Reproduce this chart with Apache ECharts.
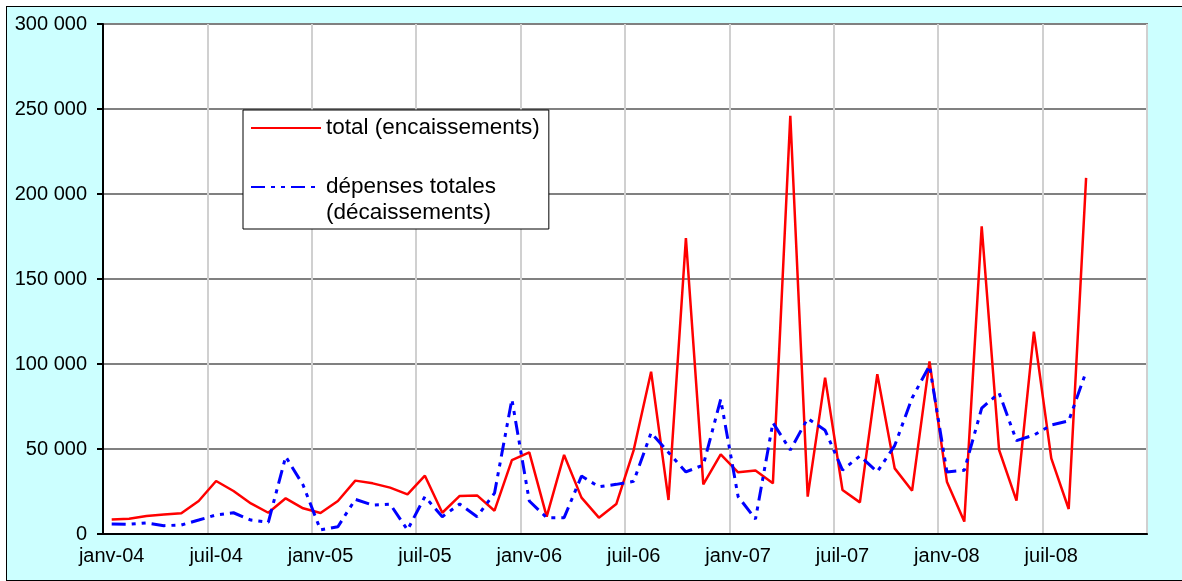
<!DOCTYPE html>
<html>
<head>
<meta charset="utf-8">
<script src="https://cdn.jsdelivr.net/npm/echarts@6/dist/echarts.min.js"></script>
<style>
  html, body { margin: 0; padding: 0; background: #fff; overflow: hidden; }
  #chart {
    position: absolute; left: 6px; top: 6px;
    width: 1182px; height: 575px;
    box-sizing: border-box;
    border: 1px solid #000;
    background: #ccffff;
  }
</style>
</head>
<body>
<div id="chart"></div>
<script>
// mois (format Excel mmm-aa)
const monthNames = ['janv', 'févr', 'mars', 'avr', 'mai', 'juin', 'juil', 'août', 'sept', 'oct', 'nov', 'déc']
const years = ['04', '05', '06', '07', '08']

// valeurs mensuelles
const encaissements = [
  8600, 9000, 10600, 11400, 12200, 19400, 31200, 25300, 18000, 12500, 21000, 15100,
  12400, 19400, 31400, 29800, 27300, 23300, 34300, 12500, 22400, 22700, 13700, 43500,
  48000, 10200, 46500, 21400, 9600, 17600, 49400, 95500, 20000, 174000, 29200, 46900,
  36300, 37300, 29800, 246000, 22000, 92000, 25900, 18600, 94000, 38600, 25500, 101500,
  30800, 7300, 181000, 49400, 19600, 119000, 44500, 14700, 209500
]
const decaissements = [
  5900, 5700, 6500, 4900, 5300, 8200, 11200, 12500, 8200, 6900, 45500, 28800,
  2400, 4300, 20400, 17000, 17600, 2400, 22000, 10200, 17600, 10200, 24000, 79200,
  19400, 9600, 9600, 34100, 27800, 29200, 31000, 59500, 48000, 36500, 40600, 79200,
  22000, 8800, 65500, 49400, 68000, 61000, 37600, 45900, 36600, 52000, 80000, 99000,
  36500, 37500, 74000, 83000, 54900, 58200, 64100, 66500, 95500
]

const categories = []
years.forEach(y => monthNames.forEach(m => categories.push(m + '-' + y)))

const nameTotal = 'total (encaissements)'
const nameDep = 'dépenses totales\n(décaissements)'

const chart = echarts.init(document.getElementById('chart'))

const fmtSpace = v => String(v).replace(/\B(?=(\d{3})+(?!\d))/g, ' ')

chart.setOption({
  animation: false,
  textStyle: { fontFamily: 'Liberation Sans, Arial, sans-serif' },
  grid: {
    left: 96,
    top: 17,
    width: 1044,
    height: 510,
    show: true,
    backgroundColor: '#fff',
    borderColor: '#808080',
    borderWidth: 2
  },
  legend: {
    orient: 'vertical',
    left: 236,
    top: 103,
    padding: [5, 9, 3, 7],
    itemWidth: 70,
    itemHeight: 14,
    itemGap: 7,
    itemStyle: { opacity: 0 },
    backgroundColor: '#fff',
    borderColor: '#000',
    borderWidth: 1,
    borderRadius: 0,
    textStyle: { fontSize: 22.5, color: '#000', lineHeight: 26 },
    // ligne vide en tête : la première ligne du libellé reste alignée sur le trait
    formatter: name => (name === nameDep ? '\n' + name : name),
    data: [nameTotal, nameDep]
  },
  xAxis: {
    type: 'category',
    data: categories,
    boundaryGap: true,
    axisLine: { lineStyle: { color: '#000', width: 2 } },
    axisTick: { interval: 5, length: 6, lineStyle: { color: '#000', width: 2 } },
    axisLabel: { interval: 5, color: '#000', fontSize: 20, margin: 12 },
    splitLine: { show: true, interval: 5, lineStyle: { color: '#d0d0d0', width: 2 } }
  },
  yAxis: {
    type: 'value',
    min: 0,
    max: 300000,
    interval: 50000,
    axisLine: { show: true, lineStyle: { color: '#000', width: 2 } },
    axisTick: { show: true, length: 6, lineStyle: { color: '#000', width: 2 } },
    axisLabel: { color: '#000', fontSize: 20, margin: 16, formatter: fmtSpace },
    splitLine: { show: true, lineStyle: { color: '#808080', width: 2 } }
  },
  series: [
    {
      name: nameTotal,
      type: 'line',
      data: encaissements,
      symbol: 'none',
      lineStyle: { color: '#ff0000', width: 2.5 },
      itemStyle: { color: '#ff0000' }
    },
    {
      name: nameDep,
      type: 'line',
      data: decaissements,
      symbol: 'none',
      lineStyle: { color: '#0000ff', width: 3, type: [14, 6, 4, 6, 4, 6] },
      itemStyle: { color: '#0000ff' }
    }
  ]
})
</script>
</body>
</html>
